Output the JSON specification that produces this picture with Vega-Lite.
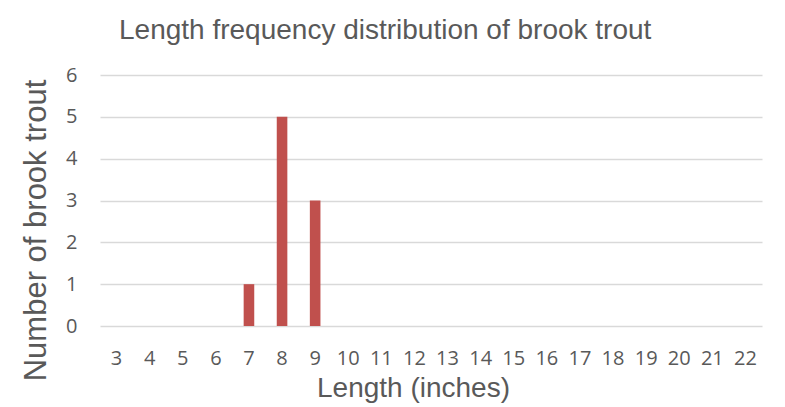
{
  "$schema": "https://vega.github.io/schema/vega-lite/v6.json",
  "autosize": "none",
  "width": 662,
  "height": 251,
  "padding": {"left": 100, "top": 75, "right": 23, "bottom": 81},
  "background": "white",
  "title": {
    "text": "Length frequency distribution of brook trout",
    "font": "Liberation Sans",
    "fontSize": 28,
    "fontWeight": "normal",
    "color": "#595959",
    "anchor": "start",
    "frame": "group",
    "dx": 19,
    "offset": 20
  },
  "data": {
    "values": [
      {"length": "3", "count": 0},
      {"length": "4", "count": 0},
      {"length": "5", "count": 0},
      {"length": "6", "count": 0},
      {"length": "7", "count": 1},
      {"length": "8", "count": 5},
      {"length": "9", "count": 3},
      {"length": "10", "count": 0},
      {"length": "11", "count": 0},
      {"length": "12", "count": 0},
      {"length": "13", "count": 0},
      {"length": "14", "count": 0},
      {"length": "15", "count": 0},
      {"length": "16", "count": 0},
      {"length": "17", "count": 0},
      {"length": "18", "count": 0},
      {"length": "19", "count": 0},
      {"length": "20", "count": 0},
      {"length": "21", "count": 0},
      {"length": "22", "count": 0}
    ]
  },
  "mark": {"type": "bar", "color": "#C0504D"},
  "encoding": {
    "x": {
      "field": "length",
      "type": "ordinal",
      "sort": null,
      "scale": {"paddingInner": 0.68, "paddingOuter": 0.34},
      "axis": {
        "title": "Length (inches)",
        "titleFont": "Liberation Sans",
        "titleFontSize": 28,
        "titleFontWeight": "normal",
        "titleColor": "#595959",
        "titlePadding": 6,
        "titleX": 313,
        "titleAlign": "center",
        "labelAngle": 0,
        "labelFont": "Open Sans",
        "labelFontSize": 20,
        "labelColor": "#595959",
        "labelPadding": 22,
        "labelOverlap": false,
        "domain": false,
        "ticks": false
      }
    },
    "y": {
      "field": "count",
      "type": "quantitative",
      "scale": {"domain": [0, 6]},
      "axis": {
        "title": "Number of brook trout",
        "titleFont": "Liberation Sans",
        "titleFontSize": 31,
        "titleFontWeight": "normal",
        "titleColor": "#595959",
        "titlePadding": 13,
        "titleY": 155,
        "values": [0, 1, 2, 3, 4, 5, 6],
        "labelFont": "Open Sans",
        "labelFontSize": 20,
        "labelColor": "#595959",
        "labelPadding": 23,
        "labelOverlap": false,
        "domain": false,
        "ticks": false,
        "grid": true,
        "gridColor": "#d9d9d9",
        "gridWidth": 1.3
      }
    }
  },
  "config": {"view": {"stroke": null}}
}
